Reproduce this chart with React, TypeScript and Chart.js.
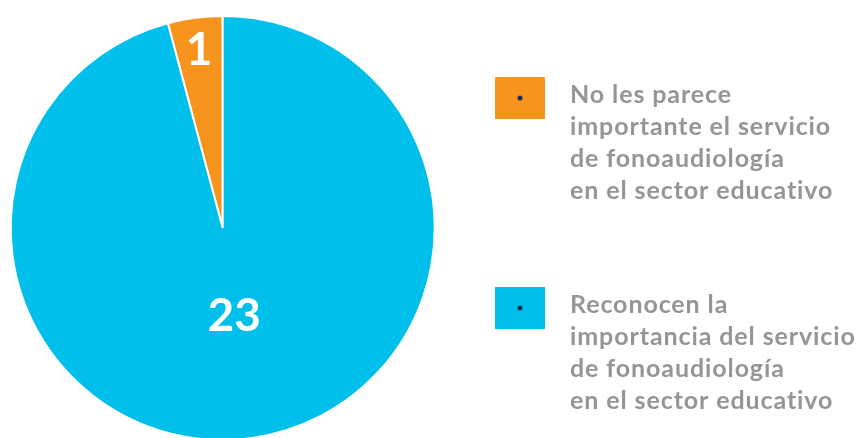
import React, { useEffect, useRef } from "react";
import { Chart, registerables } from "chart.js";
Chart.register(...registerables);

const categories = [
  "No les parece importante el servicio de fonoaudiología en el sector educativo",
  "Reconocen la importancia del servicio de fonoaudiología en el sector educativo",
];
const legendLines = [
  ["No les parece", "importante el servicio", "de fonoaudiología", "en el sector educativo"],
  ["Reconocen la", "importancia del servicio", "de fonoaudiología", "en el sector educativo"],
];
const values = [1, 23];
const colors = ["#F7941D", "#00C0EB"];

const FONT = "Lato, 'Noto Sans', sans-serif";

const labelPlugin = {
  id: "sliceLabels",
  afterDatasetsDraw(chart: any) {
    const ctx = chart.ctx;
    const meta = chart.getDatasetMeta(0);
    const fracs = [0.85, 0.415];
    ctx.save();
    ctx.fillStyle = "#ffffff";
    ctx.font = `700 46px ${FONT}`;
    ctx.textAlign = "center";
    ctx.textBaseline = "middle";
    meta.data.forEach((arc: any, i: number) => {
      const mid = (arc.startAngle + arc.endAngle) / 2;
      const r = arc.outerRadius * fracs[i];
      ctx.fillText(String(values[i]), arc.x + Math.cos(mid) * r, arc.y + Math.sin(mid) * r + 1);
    });
    ctx.restore();
  },
};

const legendPlugin = {
  id: "sideLegend",
  afterDraw(chart: any) {
    const ctx = chart.ctx;
    const tops = [77, 287];
    ctx.save();
    legendLines.forEach((lines, i) => {
      const top = tops[i];
      ctx.fillStyle = colors[i];
      ctx.fillRect(495, top, 50, 42);
      ctx.fillStyle = "#1f2a5c";
      ctx.beginPath();
      ctx.arc(520, top + 21, 2.5, 0, Math.PI * 2);
      ctx.fill();
      ctx.fillStyle = "#959595";
      ctx.font = `700 25px ${FONT}`;
      (ctx as any).letterSpacing = "0.9px";
      ctx.textAlign = "left";
      ctx.textBaseline = "alphabetic";
      lines.forEach((ln, j) => {
        ctx.fillText(ln, 570, top + 26 + j * 32);
      });
    });
    ctx.restore();
  },
};

export default function App() {
  const ref = useRef<HTMLCanvasElement>(null);
  useEffect(() => {
    if (!ref.current) return;
    const total = values.reduce((a, b) => a + b, 0);
    const chart = new Chart(ref.current, {
      type: "pie",
      data: {
        labels: categories,
        datasets: [
          {
            data: values,
            backgroundColor: colors,
            borderColor: "#ffffff",
            borderWidth: 2,
          },
        ],
      },
      options: {
        responsive: false,
        animation: false,
        rotation: (-360 * values[0]) / total,
        layout: { padding: { left: 9.7, right: 424.3, top: 15, bottom: 19 } },
        plugins: {
          legend: { display: false },
          tooltip: { enabled: false },
        },
      },
      plugins: [labelPlugin, legendPlugin],
    });
    return () => chart.destroy();
  }, []);
  return (
    <div style={{ position: "fixed", left: 0, top: 0, width: 860, height: 438, overflow: "hidden", background: "#fff" }}>
      <canvas ref={ref} width={860} height={460} style={{ display: "block" }} />
    </div>
  );
}
